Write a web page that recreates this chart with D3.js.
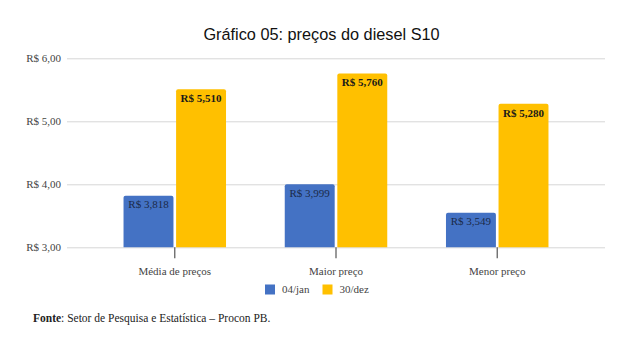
<!DOCTYPE html>
<html>
<head>
<meta charset="utf-8">
<script src="https://cdn.jsdelivr.net/npm/d3@7"></script>
<style>
  html, body { margin: 0; padding: 0; background: #fff; }
  svg { display: block; }
</style>
</head>
<body>
<svg id="chart" width="627" height="343"></svg>
<script>
const categories = ["Média de preços", "Maior preço", "Menor preço"];
const seriesNames = ["04/jan", "30/dez"];
const valuesJan = [3.818, 3.999, 3.549];
const valuesDez = [5.510, 5.760, 5.280];
const yTicks = [3, 4, 5, 6];
const yTickLabels = ["R$ 3,00", "R$ 4,00", "R$ 5,00", "R$ 6,00"];
const valueLabelsJan = ["R$ 3,818", "R$ 3,999", "R$ 3,549"];
const valueLabelsDez = ["R$ 5,510", "R$ 5,760", "R$ 5,280"];

const colors = ["#4472C4", "#FFC000"];
const labelColors = ["#1b2a48", "#1a1a1a"];
const labelWeights = ["normal", "bold"];
const serif = "'Liberation Serif', 'Times New Roman', serif";
const sans = "'Liberation Sans', Arial, sans-serif";

(function () {
const svg = d3.select("#chart");
const pLeft = 67, pRight = 605, pTop = 58.3, pBottom = 247.3;

const x0 = d3.scaleBand().domain(categories).range([pLeft, pRight]).paddingInner(0).paddingOuter(0.1685);
const y = d3.scaleLinear().domain([3, 6]).range([pBottom, pTop]);

// Title
svg.append("text")
  .attr("x", 321.5).attr("y", 40)
  .attr("text-anchor", "middle")
  .style("font-family", sans).style("font-size", "16.3px").style("fill", "#111")
  .text("Gráfico 05: preços do diesel S10");

// Grid
const yAxis = d3.axisLeft(y).tickValues(yTicks)
  .tickSize(-(pRight - pLeft))
  .tickFormat((d, i) => yTickLabels[i]);
const gy = svg.append("g").attr("transform", `translate(${pLeft},0)`).call(yAxis);
gy.attr("font-family", null);
gy.select(".domain").remove();
gy.selectAll(".tick line").attr("stroke", "#d6d6d6").attr("stroke-width", 1);
gy.selectAll(".tick text")
  .attr("x", -6)
  .style("font-family", serif).style("font-size", "11px").style("fill", "#444");

// Bars
const data = categories.map((c, i) => ({ cat: c, vals: [valuesJan[i], valuesDez[i]], labs: [valueLabelsJan[i], valueLabelsDez[i]] }));
const x1 = d3.scaleBand().domain(seriesNames).range([-51.25, 51.25]).paddingInner(0.05);

function topRounded(x, yTop, w, h, r) {
  return `M${x},${yTop + h}V${yTop + r}Q${x},${yTop} ${x + r},${yTop}H${x + w - r}Q${x + w},${yTop} ${x + w},${yTop + r}V${yTop + h}Z`;
}

const g = svg.append("g");
data.forEach(d => {
  const cx = x0(d.cat) + x0.bandwidth() / 2;
  seriesNames.forEach((s, j) => {
    const bx = cx + x1(s);
    const by = y(d.vals[j]);
    g.append("path")
      .attr("d", topRounded(bx, by, x1.bandwidth(), y(3) - by, 2))
      .attr("fill", colors[j]);
    g.append("text")
      .attr("x", bx + x1.bandwidth() / 2)
      .attr("y", by + (j === 0 ? 12.5 : 13))
      .attr("text-anchor", "middle")
      .style("font-family", serif).style("font-size", "11px")
      .style("font-weight", labelWeights[j]).style("fill", labelColors[j])
      .text(d.labs[j]);
  });
});

// X axis ticks and labels
const xAxis = d3.axisBottom(x0).tickSize(11).tickSizeOuter(0).tickPadding(6);
const gx = svg.append("g").attr("transform", `translate(0,${pBottom})`).call(xAxis);
gx.attr("font-family", null);
gx.select(".domain").remove();
gx.selectAll(".tick line").attr("stroke", "#555").attr("stroke-width", 1.2);
gx.selectAll(".tick text")
  .attr("y", 20)
  .style("font-family", serif).style("font-size", "11px").style("fill", "#444");

// Legend
const legendItems = [{ x: 265, name: seriesNames[0], c: colors[0] }, { x: 322.5, name: seriesNames[1], c: colors[1] }];
legendItems.forEach(it => {
  svg.append("rect").attr("x", it.x).attr("y", 284.5).attr("width", 10).attr("height", 10).attr("fill", it.c);
  svg.append("text").attr("x", it.x + 17).attr("y", 293)
    .style("font-family", serif).style("font-size", "11px").style("fill", "#444")
    .text(it.name);
});

// Source note
const src = svg.append("text").attr("x", 33).attr("y", 322)
  .style("font-family", serif).style("font-size", "11.5px").style("fill", "#222");
src.append("tspan").style("font-weight", "bold").text("Fonte");
src.append("tspan").text(": Setor de Pesquisa e Estatística – Procon PB.");
})();
</script>
</body>
</html>
